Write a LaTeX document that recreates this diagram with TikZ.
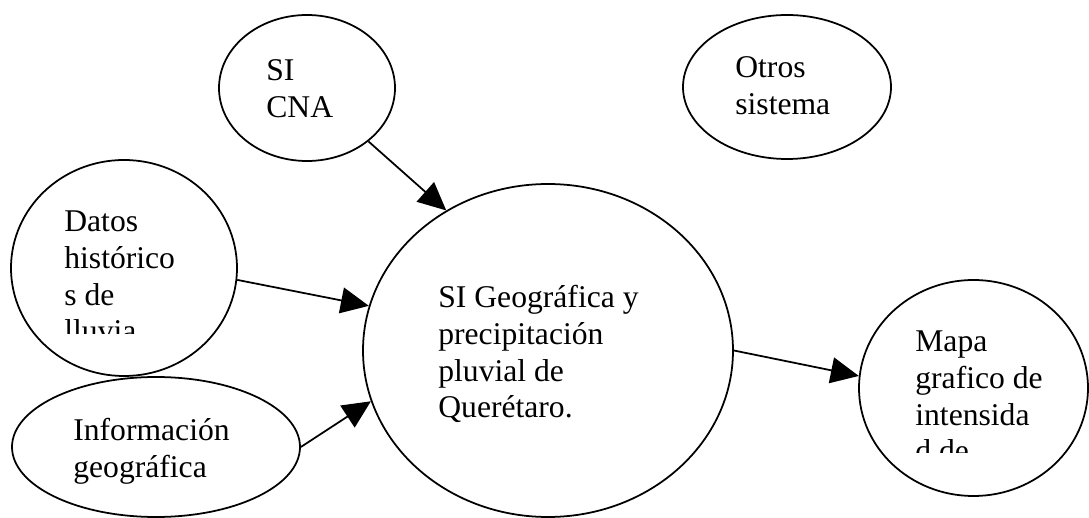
\documentclass[tikz,border=0pt]{standalone}
\usepackage{fontspec}
\setmainfont{Liberation Serif}
\usetikzlibrary{arrows.meta,shapes.geometric}

\begin{document}
\begin{tikzpicture}[bubND/.style={ellipse,
                                  draw=black,
                                  line width=1pt,
                                  inner sep=0pt},
                    txtND/.style={anchor=base west,
                                  inner sep=0pt,
                                  font=\fontsize{18}{20.8}\selectfont},
                    arw/.style={-{Triangle[length=5.6mm,width=5.2mm]},
                                line width=1pt}]
    \useasboundingbox (0,0) rectangle (21.78,10.36);
    % bubbles
    \node[bubND, minimum width=3.52cm, minimum height=2.92cm](cna)   at (6.14,8.60)  {};
    \node[bubND, minimum width=4.16cm, minimum height=2.88cm](otros) at (15.74,8.62) {};
    \node[bubND, minimum width=4.52cm, minimum height=4.32cm](datos) at (2.48,5.00)  {};
    \node[bubND, minimum width=5.76cm, minimum height=2.80cm](info)  at (3.12,1.42)  {};
    \node[bubND, minimum width=7.40cm, minimum height=6.66cm](main)  at (10.96,3.35) {};
    \node[bubND, minimum width=4.58cm, minimum height=4.32cm](mapa)  at (19.47,2.60) {};
    % texts
    \node[txtND](cnaT)   at (5.32,8.74)  {\begin{tabular}[t]{@{}l@{}}SI\\CNA\end{tabular}};
    \node[txtND](otrosT) at (14.70,8.80) {\begin{tabular}[t]{@{}l@{}}Otros\\sistema\end{tabular}};
    \node[txtND](infoT)  at (1.46,1.54)  {\begin{tabular}[t]{@{}l@{}}Información\\geográfica\end{tabular}};
    \node[txtND](mainT)  at (8.76,4.20)  {\begin{tabular}[t]{@{}l@{}}SI Geográfica y\\precipitación\\pluvial de\\Querétaro.\end{tabular}};
    \begin{scope}
        \clip (0,3.68) rectangle (8,10.36);
        \node[txtND](datosT) at (1.28,5.72) {\begin{tabular}[t]{@{}l@{}}Datos\\histórico\\s de\\lluvia\end{tabular}};
    \end{scope}
    \begin{scope}
        \clip (15,1.30) rectangle (21.78,10.36);
        \node[txtND](mapaT) at (18.30,3.32) {\begin{tabular}[t]{@{}l@{}}Mapa\\grafico de\\intensida\\d de\end{tabular}};
    \end{scope}
    % arrows
    \path
        (cna.-41)  edge [arw] (main.126)
        (datos.-6) edge [arw] (main.166)
        (info.0)   edge [arw] (main.-164)
        (main.0)   edge [arw] (mapa.174)
        ;
\end{tikzpicture}
\end{document}
